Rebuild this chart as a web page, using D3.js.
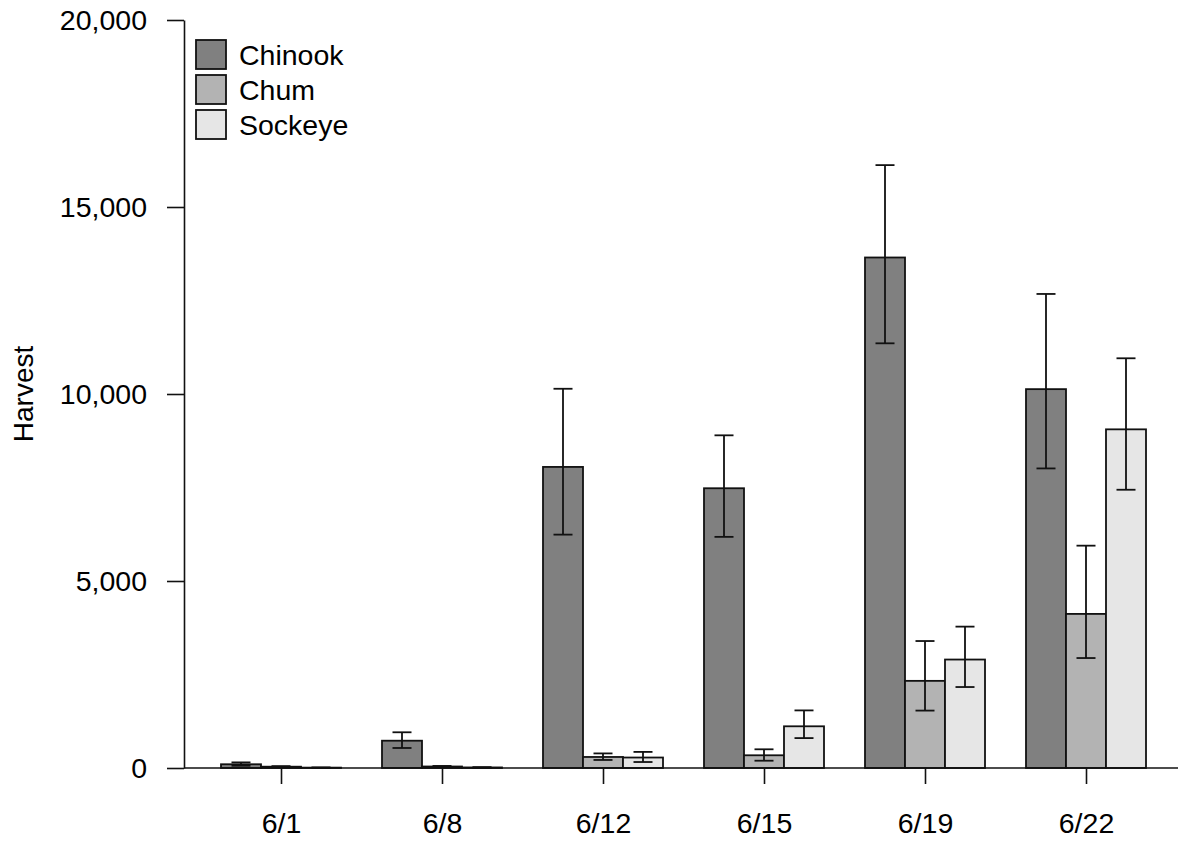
<!DOCTYPE html>
<html>
<head>
<meta charset="utf-8">
<script src="https://cdn.jsdelivr.net/npm/d3@7"></script>
<style>
  html, body { margin: 0; padding: 0; background: #fff; }
  svg { display: block; }
  text { font-family: "Liberation Sans", Arial, sans-serif; fill: #000; }
</style>
</head>
<body>
<svg id="chart" width="1178" height="842"></svg>
<script>
const dates = ["6/1", "6/8", "6/12", "6/15", "6/19", "6/22"];
const species = ["Chinook", "Chum", "Sockeye"];
const colors = ["#808080", "#b3b3b3", "#e6e6e6"];
const chinook      = [100, 730, 8050, 7480, 13650, 10130];
const chinookLow   = [60, 535, 6240, 6180, 11355, 8010];
const chinookHigh  = [150, 955, 10140, 8895, 16120, 12675];
const chum         = [35, 40, 295, 340, 2330, 4120];
const chumLow      = [20, 25, 215, 195, 1535, 2940];
const chumHigh     = [50, 55, 390, 500, 3395, 5945];
const sockeye      = [10, 15, 280, 1115, 2900, 9055];
const sockeyeLow   = [5, 8, 160, 800, 2165, 7440];
const sockeyeHigh  = [15, 22, 430, 1540, 3780, 10955];
const yTicks = [0, 5000, 10000, 15000, 20000];

const values = [chinook, chum, sockeye];
const lows = [chinookLow, chumLow, sockeyeLow];
const highs = [chinookHigh, chumHigh, sockeyeHigh];

const svg = d3.select("#chart");
const axisX = 184, plotTop = 20, plotBottom = 768;

const y = d3.scaleLinear().domain([0, 20000]).range([plotBottom, plotTop]);
const pin = 41 / 161;
const x = d3.scaleBand().domain(dates)
  .range([200.5, 200.5 + 6 * 161])
  .paddingInner(pin).paddingOuter(pin / 2);
const xs = d3.scaleBand().domain(species).range([0, x.bandwidth()]);

const rows = [];
dates.forEach((d, i) => species.forEach((s, j) => rows.push({
  date: d, sp: s, j: j, v: values[j][i], lo: lows[j][i], hi: highs[j][i]
})));

// bars
svg.append("g").selectAll("rect").data(rows).join("rect")
  .attr("x", r => x(r.date) + xs(r.sp))
  .attr("y", r => y(r.v))
  .attr("width", xs.bandwidth())
  .attr("height", r => y(0) - y(r.v))
  .attr("fill", r => colors[r.j])
  .attr("stroke", "#111")
  .attr("stroke-width", 1.8);

// error bars
const eb = svg.append("g").attr("stroke", "#111").attr("stroke-width", 1.8);
const capW = 19;
rows.forEach(r => {
  const cx = x(r.date) + xs(r.sp) + xs.bandwidth() / 2;
  eb.append("line").attr("x1", cx).attr("x2", cx).attr("y1", y(r.lo)).attr("y2", y(r.hi));
  eb.append("line").attr("x1", cx - capW / 2).attr("x2", cx + capW / 2).attr("y1", y(r.hi)).attr("y2", y(r.hi));
  eb.append("line").attr("x1", cx - capW / 2).attr("x2", cx + capW / 2).attr("y1", y(r.lo)).attr("y2", y(r.lo));
});

// baseline
svg.append("line").attr("x1", axisX).attr("x2", 1178).attr("y1", y(0)).attr("y2", y(0))
  .attr("stroke", "#111").attr("stroke-width", 1.6);

// y axis
const yAxis = svg.append("g").attr("transform", `translate(${axisX},0)`)
  .call(d3.axisLeft(y).tickValues(yTicks).tickFormat(d3.format(",")).tickSize(17).tickPadding(20).tickSizeOuter(0));
yAxis.select(".domain").attr("stroke", "#111").attr("stroke-width", 1.6);
yAxis.selectAll(".tick line").attr("stroke", "#111").attr("stroke-width", 1.6);
yAxis.selectAll(".tick text").attr("font-size", 28.5).attr("font-family", "Liberation Sans, Arial, sans-serif").attr("fill", "#000");

// x axis: ticks at middle bar centers
const centers = dates.map(d => x(d) + x.bandwidth() / 2);
const xTickScale = d3.scalePoint().domain(dates).range([centers[0], centers[centers.length - 1]]);
const xAxis = svg.append("g").attr("transform", `translate(0,${y(0)})`)
  .call(d3.axisBottom(xTickScale).tickSize(16).tickPadding(29).tickSizeOuter(0));
xAxis.select(".domain").remove();
xAxis.selectAll(".tick line").attr("stroke", "#111").attr("stroke-width", 1.6);
xAxis.selectAll(".tick text").attr("font-size", 28.5).attr("font-family", "Liberation Sans, Arial, sans-serif").attr("fill", "#000");

// y label
svg.append("text").attr("transform", "translate(33,394) rotate(-90)")
  .attr("text-anchor", "middle").attr("font-size", 28).text("Harvest");

// legend
const lg = svg.append("g");
species.forEach((s, j) => {
  const ly = 40 + j * 35;
  lg.append("rect").attr("x", 196).attr("y", ly).attr("width", 30).attr("height", 29)
    .attr("fill", colors[j]).attr("stroke", "#111").attr("stroke-width", 1.8);
  lg.append("text").attr("x", 239).attr("y", ly + 25).attr("font-size", 28.5).text(s);
});
</script>
</body>
</html>
